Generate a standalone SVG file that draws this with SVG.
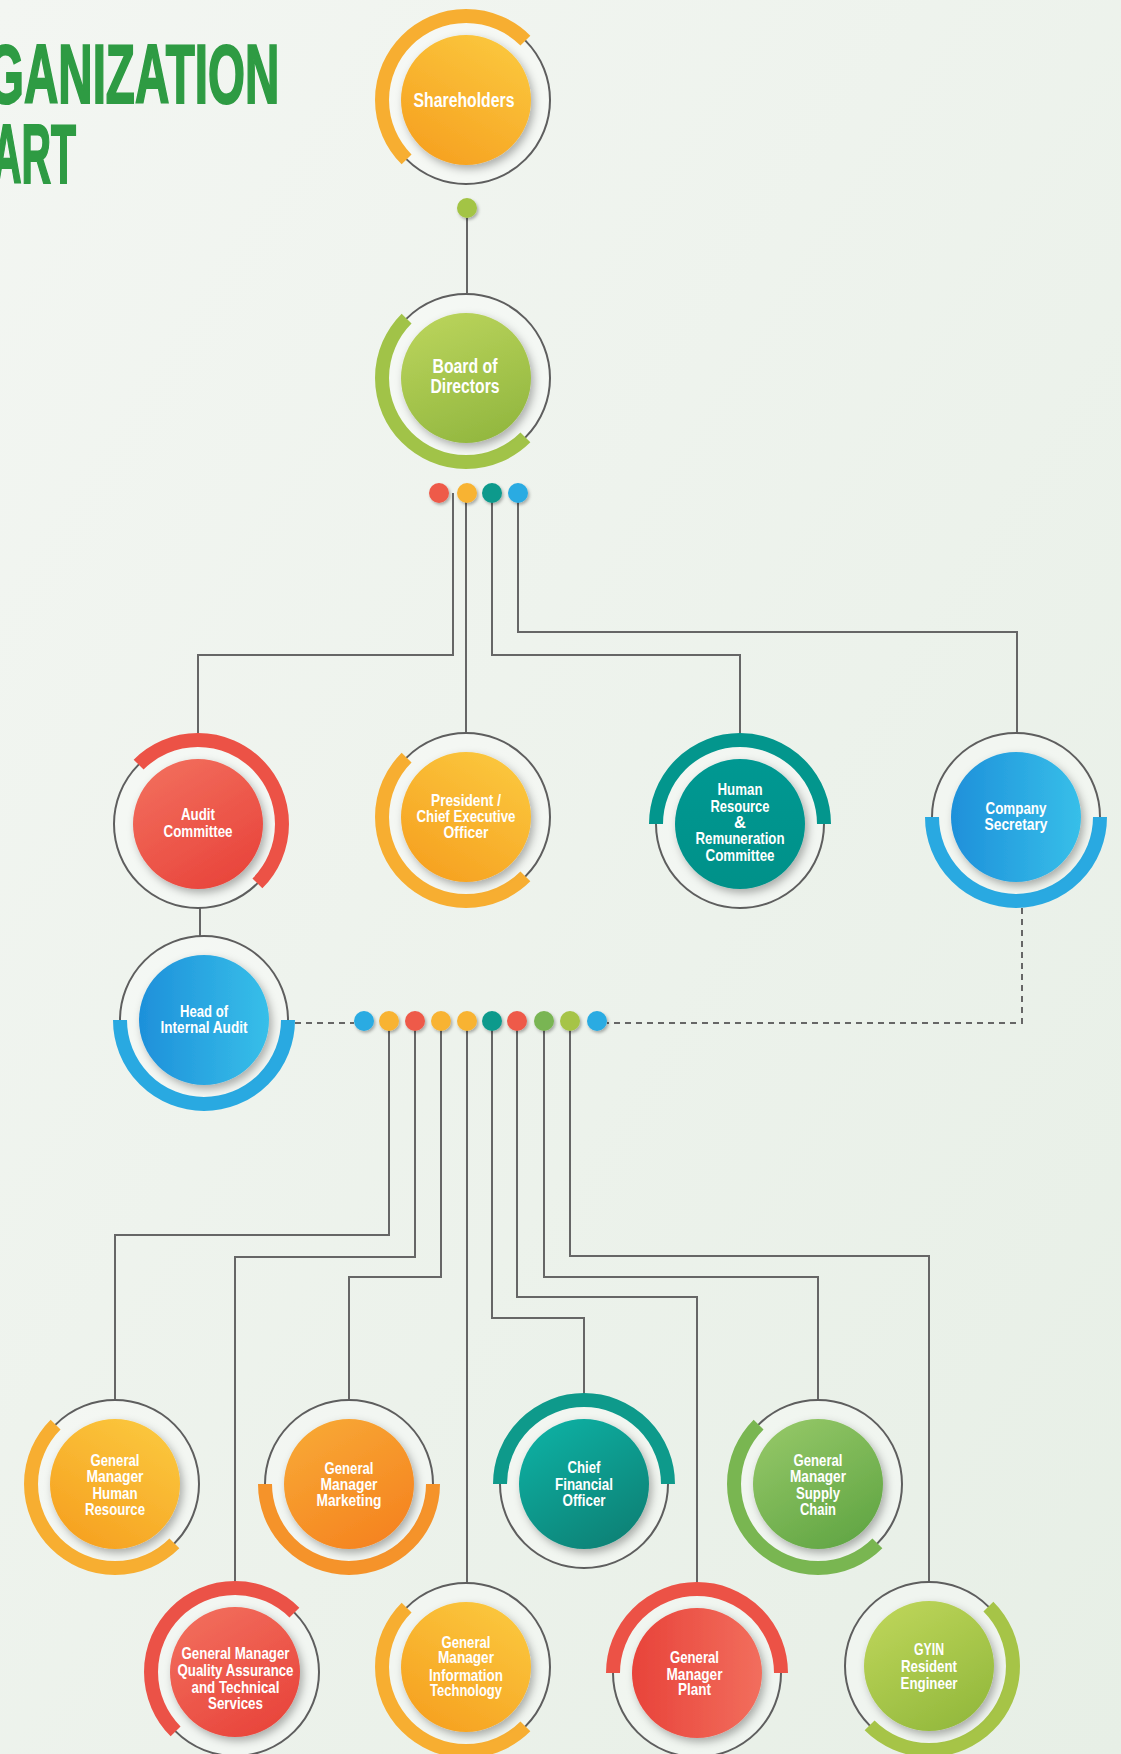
<svg xmlns="http://www.w3.org/2000/svg" width="1121" height="1754" viewBox="0 0 1121 1754">
<defs>
<style>
.ring{fill:rgba(255,255,255,0.35);stroke:#5e5e5e;stroke-width:2}
.arc{fill:none;stroke-width:14}
.conn{fill:none;stroke:#666;stroke-width:2}
.dash{fill:none;stroke:#666;stroke-width:2;stroke-dasharray:6 5}
.lbl{font-family:"Liberation Sans",Arial,sans-serif;font-weight:bold;fill:#fff;font-size:16.5px;text-anchor:middle}
.big{font-size:19.5px}
.title{font-family:"Liberation Sans",Arial,sans-serif;font-weight:bold;fill:#2E9B43;stroke:#2E9B43;stroke-width:2.2;font-size:84px}
</style>
<linearGradient id="bg" x1="0" y1="0" x2="1" y2="1">
<stop offset="0" stop-color="#F3F6F2"/><stop offset="1" stop-color="#E7EFE6"/>
</linearGradient>
<linearGradient id="gOrange" x1="0.8" y1="0" x2="0.2" y2="1">
<stop offset="0" stop-color="#FBC83E"/><stop offset="1" stop-color="#F6A020"/>
</linearGradient>
<linearGradient id="gMkt" x1="0.2" y1="0" x2="0.8" y2="1">
<stop offset="0" stop-color="#F8A835"/><stop offset="1" stop-color="#F5821F"/>
</linearGradient>
<linearGradient id="gRed" x1="0.2" y1="0" x2="0.8" y2="1">
<stop offset="0" stop-color="#F26E5D"/><stop offset="1" stop-color="#E8433A"/>
</linearGradient>
<linearGradient id="gRedH" x1="0" y1="0.5" x2="1" y2="0.5">
<stop offset="0" stop-color="#E8433A"/><stop offset="1" stop-color="#F26E5D"/>
</linearGradient>
<linearGradient id="gGreen" x1="0.3" y1="0" x2="0.7" y2="1">
<stop offset="0" stop-color="#B9D35B"/><stop offset="1" stop-color="#92B73F"/>
</linearGradient>
<linearGradient id="gTeal" x1="0.2" y1="0" x2="0.8" y2="1">
<stop offset="0" stop-color="#0FB0A3"/><stop offset="1" stop-color="#078074"/>
</linearGradient>
<linearGradient id="gTealFlat" x1="0" y1="0" x2="0" y2="1">
<stop offset="0" stop-color="#009892"/><stop offset="1" stop-color="#009189"/>
</linearGradient>
<linearGradient id="gBlue" x1="0" y1="0.5" x2="1" y2="0.5">
<stop offset="0" stop-color="#1E90DA"/><stop offset="1" stop-color="#37BFE9"/>
</linearGradient>
<linearGradient id="gSupply" x1="0.2" y1="0" x2="0.8" y2="1">
<stop offset="0" stop-color="#94C767"/><stop offset="1" stop-color="#60A543"/>
</linearGradient>
<linearGradient id="gYG" x1="0.2" y1="0" x2="0.8" y2="1">
<stop offset="0" stop-color="#BDD559"/><stop offset="1" stop-color="#92B83C"/>
</linearGradient>
<filter id="sh" x="-30%" y="-30%" width="170%" height="170%">
<feDropShadow dx="3" dy="4" stdDeviation="4" flood-color="#000" flood-opacity="0.3"/>
</filter>
<filter id="dsh" x="-50%" y="-50%" width="220%" height="220%">
<feDropShadow dx="1.5" dy="2" stdDeviation="1.5" flood-color="#000" flood-opacity="0.3"/>
</filter>
</defs>
<rect width="1121" height="1754" fill="url(#bg)"/>

<g id="title">
<text class="title" transform="translate(-13,103) scale(0.566,1)" x="0" y="0">GANIZATION</text>
<text class="title" transform="translate(-8,183) scale(0.487,1)" x="0" y="0">ART</text>
</g>

<g id="connectors">
<path class="conn" d="M467,218 V293"/>
<path class="conn" d="M453,493 V655 H198 V740"/>
<path class="conn" d="M466,493 V733"/>
<path class="conn" d="M492,493 V655 H740 V740"/>
<path class="conn" d="M518,493 V632 H1017 V733"/>
<path class="conn" d="M200,908 V936"/>
<path class="dash" d="M295,1023 H354"/>
<path class="dash" d="M1022,908 V1023 H607"/>
<path class="conn" d="M389,1021 V1235 H115 V1400"/>
<path class="conn" d="M415,1021 V1257 H235 V1588"/>
<path class="conn" d="M441,1021 V1277 H349 V1400"/>
<path class="conn" d="M467,1021 V1583"/>
<path class="conn" d="M492,1021 V1318 H584 V1400"/>
<path class="conn" d="M517,1021 V1297 H697 V1589"/>
<path class="conn" d="M544,1021 V1277 H818 V1400"/>
<path class="conn" d="M570,1021 V1256 H929 V1582"/>
</g>

<g id="junctions">
<circle cx="467" cy="208" r="10" fill="#A3C445" filter="url(#dsh)"/>
<circle cx="439" cy="493" r="10" fill="#EE5A4A" filter="url(#dsh)"/>
<circle cx="467" cy="493" r="10" fill="#F8B333" filter="url(#dsh)"/>
<circle cx="492" cy="493" r="10" fill="#0C9A8C" filter="url(#dsh)"/>
<circle cx="518" cy="493" r="10" fill="#2AABE2" filter="url(#dsh)"/>
<circle cx="364" cy="1021" r="10" fill="#2AABE2" filter="url(#dsh)"/>
<circle cx="389" cy="1021" r="10" fill="#F8B333" filter="url(#dsh)"/>
<circle cx="415" cy="1021" r="10" fill="#EE5A4A" filter="url(#dsh)"/>
<circle cx="441" cy="1021" r="10" fill="#F8B333" filter="url(#dsh)"/>
<circle cx="467" cy="1021" r="10" fill="#F8B333" filter="url(#dsh)"/>
<circle cx="492" cy="1021" r="10" fill="#0C9A8C" filter="url(#dsh)"/>
<circle cx="517" cy="1021" r="10" fill="#EE5A4A" filter="url(#dsh)"/>
<circle cx="544" cy="1021" r="10" fill="#79B552" filter="url(#dsh)"/>
<circle cx="570" cy="1021" r="10" fill="#A6C447" filter="url(#dsh)"/>
<circle cx="597" cy="1021" r="10" fill="#2AABE2" filter="url(#dsh)"/>
</g>

<g id="shareholders" transform="translate(466,100)">
<circle class="ring" r="84"/>
<path class="arc" stroke="#F7AE31" d="M59.4,-59.4 A84,84 0 0 0 -59.4,59.4"/>
<circle r="65" fill="url(#gOrange)" filter="url(#sh)"/>
<text class="lbl big" x="-2" y="7" textLength="101" lengthAdjust="spacingAndGlyphs">Shareholders</text>
</g>

<g id="board" transform="translate(466,378)">
<circle class="ring" r="84"/>
<path class="arc" stroke="#A1C348" d="M-59.4,-59.4 A84,84 0 0 0 59.4,59.4"/>
<circle r="65" fill="url(#gGreen)" filter="url(#sh)"/>
<text class="lbl big" x="-1" y="-5" textLength="65" lengthAdjust="spacingAndGlyphs">Board of</text>
<text class="lbl big" x="-1" y="15" textLength="69" lengthAdjust="spacingAndGlyphs">Directors</text>
</g>

<g id="audit" transform="translate(198,824)">
<circle class="ring" r="84"/>
<path class="arc" stroke="#EC5246" d="M-59.4,-59.4 A84,84 0 0 1 59.4,59.4"/>
<circle r="65" fill="url(#gRed)" filter="url(#sh)"/>
<text class="lbl" x="0" y="-4" textLength="34" lengthAdjust="spacingAndGlyphs">Audit</text>
<text class="lbl" x="0" y="13" textLength="69" lengthAdjust="spacingAndGlyphs">Committee</text>
</g>

<g id="president" transform="translate(466,817)">
<circle class="ring" r="84"/>
<path class="arc" stroke="#F7AE31" d="M-59.4,-59.4 A84,84 0 0 0 59.4,59.4"/>
<circle r="65" fill="url(#gOrange)" filter="url(#sh)"/>
<text class="lbl" x="0" y="-11" textLength="70" lengthAdjust="spacingAndGlyphs">President /</text>
<text class="lbl" x="0" y="5" textLength="99" lengthAdjust="spacingAndGlyphs">Chief Executive</text>
<text class="lbl" x="0" y="21" textLength="45" lengthAdjust="spacingAndGlyphs">Officer</text>
</g>

<g id="hr-remuneration" transform="translate(740,824)">
<circle class="ring" r="84"/>
<path class="arc" stroke="#03968D" d="M-84,0 A84,84 0 0 1 84,0"/>
<circle r="65" fill="url(#gTealFlat)" filter="url(#sh)"/>
<text class="lbl" x="0" y="-29" textLength="45" lengthAdjust="spacingAndGlyphs">Human</text>
<text class="lbl" x="0" y="-12" textLength="59" lengthAdjust="spacingAndGlyphs">Resource</text>
<text class="lbl" x="0" y="4">&amp;</text>
<text class="lbl" x="0" y="20" textLength="89" lengthAdjust="spacingAndGlyphs">Remuneration</text>
<text class="lbl" x="0" y="37" textLength="69" lengthAdjust="spacingAndGlyphs">Committee</text>
</g>

<g id="company-secretary" transform="translate(1016,817)">
<circle class="ring" r="84"/>
<path class="arc" stroke="#29A9E1" d="M84,0 A84,84 0 0 1 -84,0"/>
<circle r="65" fill="url(#gBlue)" filter="url(#sh)"/>
<text class="lbl" x="0" y="-3" textLength="61" lengthAdjust="spacingAndGlyphs">Company</text>
<text class="lbl" x="0" y="13" textLength="63" lengthAdjust="spacingAndGlyphs">Secretary</text>
</g>

<g id="head-internal-audit" transform="translate(204,1020)">
<circle class="ring" r="84"/>
<path class="arc" stroke="#29A9E1" d="M84,0 A84,84 0 0 1 -84,0"/>
<circle r="65" fill="url(#gBlue)" filter="url(#sh)"/>
<text class="lbl" x="0" y="-3" textLength="48" lengthAdjust="spacingAndGlyphs">Head of</text>
<text class="lbl" x="0" y="13" textLength="87" lengthAdjust="spacingAndGlyphs">Internal Audit</text>
</g>

<g id="gm-hr" transform="translate(115,1484)">
<circle class="ring" r="84"/>
<path class="arc" stroke="#F7AE31" d="M-59.4,-59.4 A84,84 0 0 0 59.4,59.4"/>
<circle r="65" fill="url(#gOrange)" filter="url(#sh)"/>
<text class="lbl" x="0" y="-18" textLength="49" lengthAdjust="spacingAndGlyphs">General</text>
<text class="lbl" x="0" y="-2" textLength="57" lengthAdjust="spacingAndGlyphs">Manager</text>
<text class="lbl" x="0" y="14.5" textLength="45" lengthAdjust="spacingAndGlyphs">Human</text>
<text class="lbl" x="0" y="31" textLength="60" lengthAdjust="spacingAndGlyphs">Resource</text>
</g>

<g id="gm-marketing" transform="translate(349,1484)">
<circle class="ring" r="84"/>
<path class="arc" stroke="#F5932A" d="M84,0 A84,84 0 0 1 -84,0"/>
<circle r="65" fill="url(#gMkt)" filter="url(#sh)"/>
<text class="lbl" x="0" y="-10" textLength="49" lengthAdjust="spacingAndGlyphs">General</text>
<text class="lbl" x="0" y="6" textLength="57" lengthAdjust="spacingAndGlyphs">Manager</text>
<text class="lbl" x="0" y="22" textLength="65" lengthAdjust="spacingAndGlyphs">Marketing</text>
</g>

<g id="cfo" transform="translate(584,1484)">
<circle class="ring" r="84"/>
<path class="arc" stroke="#0E9A8B" d="M-84,0 A84,84 0 0 1 84,0"/>
<circle r="65" fill="url(#gTeal)" filter="url(#sh)"/>
<text class="lbl" x="0" y="-11" textLength="33" lengthAdjust="spacingAndGlyphs">Chief</text>
<text class="lbl" x="0" y="6" textLength="58" lengthAdjust="spacingAndGlyphs">Financial</text>
<text class="lbl" x="0" y="22" textLength="43" lengthAdjust="spacingAndGlyphs">Officer</text>
</g>

<g id="gm-supply-chain" transform="translate(818,1484)">
<circle class="ring" r="84"/>
<path class="arc" stroke="#79B651" d="M-59.4,-59.4 A84,84 0 0 0 59.4,59.4"/>
<circle r="65" fill="url(#gSupply)" filter="url(#sh)"/>
<text class="lbl" x="0" y="-18" textLength="49" lengthAdjust="spacingAndGlyphs">General</text>
<text class="lbl" x="0" y="-2" textLength="56" lengthAdjust="spacingAndGlyphs">Manager</text>
<text class="lbl" x="0" y="14.5" textLength="44" lengthAdjust="spacingAndGlyphs">Supply</text>
<text class="lbl" x="0" y="31" textLength="36" lengthAdjust="spacingAndGlyphs">Chain</text>
</g>

<g id="gm-quality" transform="translate(235,1672)">
<circle class="ring" r="84"/>
<path class="arc" stroke="#EB5247" d="M59.4,-59.4 A84,84 0 0 0 -59.4,59.4"/>
<circle r="65" fill="url(#gRed)" filter="url(#sh)"/>
<text class="lbl" x="0.5" y="-13" textLength="108" lengthAdjust="spacingAndGlyphs">General Manager</text>
<text class="lbl" x="0.5" y="4" textLength="116" lengthAdjust="spacingAndGlyphs">Quality Assurance</text>
<text class="lbl" x="0.5" y="21" textLength="88" lengthAdjust="spacingAndGlyphs">and Technical</text>
<text class="lbl" x="0.5" y="37" textLength="55" lengthAdjust="spacingAndGlyphs">Services</text>
</g>

<g id="gm-it" transform="translate(466,1667)">
<circle class="ring" r="84"/>
<path class="arc" stroke="#F7AE31" d="M-59.4,-59.4 A84,84 0 0 0 59.4,59.4"/>
<circle r="65" fill="url(#gOrange)" filter="url(#sh)"/>
<text class="lbl" x="0" y="-19.5" textLength="49" lengthAdjust="spacingAndGlyphs">General</text>
<text class="lbl" x="0" y="-4" textLength="56" lengthAdjust="spacingAndGlyphs">Manager</text>
<text class="lbl" x="0" y="13.5" textLength="74" lengthAdjust="spacingAndGlyphs">Information</text>
<text class="lbl" x="0" y="29" textLength="72" lengthAdjust="spacingAndGlyphs">Technology</text>
</g>

<g id="gm-plant" transform="translate(697,1673)">
<circle class="ring" r="84"/>
<path class="arc" stroke="#EC5246" d="M-84,0 A84,84 0 0 1 84,0"/>
<circle r="65" fill="url(#gRedH)" filter="url(#sh)"/>
<text class="lbl" x="-2.5" y="-10.5" textLength="49" lengthAdjust="spacingAndGlyphs">General</text>
<text class="lbl" x="-2.5" y="6.5" textLength="56" lengthAdjust="spacingAndGlyphs">Manager</text>
<text class="lbl" x="-2.5" y="22" textLength="33" lengthAdjust="spacingAndGlyphs">Plant</text>
</g>

<g id="gyin-resident-engineer" transform="translate(929,1666)">
<circle class="ring" r="84"/>
<path class="arc" stroke="#A6C447" d="M59.4,-59.4 A84,84 0 0 1 -59.4,59.4"/>
<circle r="65" fill="url(#gYG)" filter="url(#sh)"/>
<text class="lbl" x="0" y="-11.5" textLength="30" lengthAdjust="spacingAndGlyphs">GYIN</text>
<text class="lbl" x="0" y="5.5" textLength="56" lengthAdjust="spacingAndGlyphs">Resident</text>
<text class="lbl" x="0" y="22.5" textLength="57" lengthAdjust="spacingAndGlyphs">Engineer</text>
</g>
</svg>
